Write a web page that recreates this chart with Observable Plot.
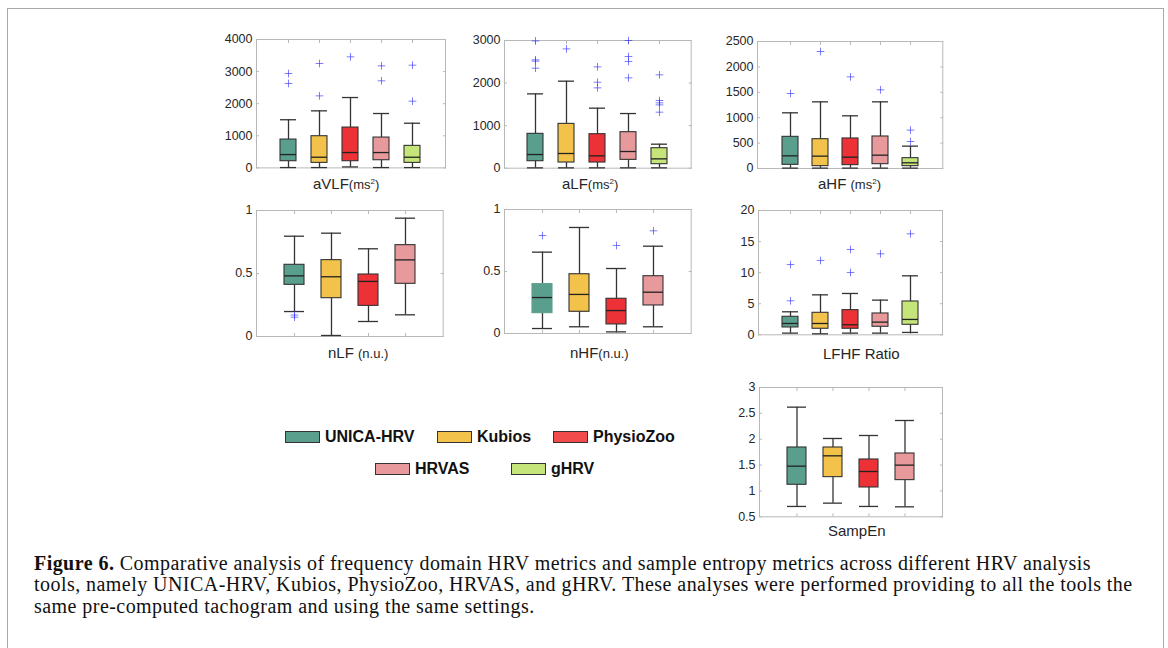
<!DOCTYPE html>
<html><head><meta charset="utf-8">
<script src="https://cdn.jsdelivr.net/npm/d3@7"></script>
<script src="https://cdn.jsdelivr.net/npm/@observablehq/plot@0.6"></script>
<style>
html,body{margin:0;padding:0;background:#fff;}
body{width:1168px;height:648px;overflow:hidden;position:relative;font-family:"Liberation Sans",Arial,sans-serif;}
#frame{position:absolute;left:7px;top:8px;width:1155px;height:700px;border:1.5px solid #a9a9a9;border-bottom:none;}
.panel{position:absolute;}
.xl{position:absolute;font-size:15px;color:#262626;white-space:nowrap;line-height:1;}
.xl .u{font-size:13px;}
.xl sup{font-size:8px;}
.lg{position:absolute;display:flex;align-items:center;font-weight:bold;font-size:16px;color:#111;white-space:nowrap;}
.lg .sw{width:33px;height:10px;border:1.3px solid #333;margin-right:5px;}
#cap{position:absolute;left:34px;top:552.5px;font-family:"Liberation Serif","Times New Roman",serif;font-size:20px;letter-spacing:0.45px;line-height:21.5px;color:#111;white-space:nowrap;}
</style>
</head><body>
<div id="frame"></div>
<div id="root"></div>
<script>
// ---- data ----
const tools = ["UNICA-HRV", "Kubios", "PhysioZoo", "HRVAS", "gHRV"];
const toolColors = ["#5a9f8d", "#f2c24a", "#ec3237", "#e8999b", "#c5e57a"];
const legendColors = ["#5a9f8d", "#f2c24a", "#f24b4b", "#e8999b", "#c5e57a"];

// each row: [lower whisker, Q1, median, Q3, upper whisker] per tool
const aVLF = [[10,208,415,883,1500],[10,156,332,987,1777],[30,208,478,1257,2192],[10,239,478,945,1694],[10,156,332,686,1392]];
const aVLF_out = [[2940,2630],[3252,2244],[3460],[3180,2712],[3200,2078]];
const aVLF_ticks = [0,1000,2000,3000,4000];

const aLF = [[8,164,321,807,1746],[8,133,345,1041,2044],[8,133,290,799,1410],[8,196,392,846,1284],[8,94,219,470,564]];
const aLF_out = [[2990,2545,2514,2349],[2803],[2380,2020,1887],[3000,2623,2506,2122],[2193,1590,1535,1488,1316]];
const aLF_ticks = [0,1000,2000,3000];

const aHF = [[7,72,249,623,1096],[7,46,243,577,1312],[7,66,223,591,1037],[7,85,262,630,1312],[7,46,112,203,440]];
const aHF_out = [[1476],[2303],[1804],[1549],[755,531]];
const aHF_ticks = [0,500,1000,1500,2000,2500];

const nLF = [[0.198,0.41,0.481,0.569,0.796],[0.008,0.304,0.474,0.606,0.82],[0.119,0.243,0.437,0.492,0.696],[0.172,0.418,0.608,0.725,0.939]];
const nLF_out = [[0.17,0.153],[],[],[]];
const nLF_ticks = [0,0.5,1];

const nHF = [[0.04,0.164,0.29,0.398,0.656],[0.054,0.175,0.315,0.478,0.855],[0.013,0.073,0.185,0.28,0.524],[0.054,0.226,0.333,0.462,0.704]];
const nHF_out = [[0.79],[],[0.71],[0.828]];
const nHF_ticks = [0,0.5,1];

const LFHF = [[0.27,1.18,1.82,2.9,3.7],[0.16,0.97,1.82,3.54,6.43],[0.27,0.97,1.61,3.97,6.65],[0.27,1.29,2.04,3.43,5.58],[0.38,1.61,2.47,5.36,9.49]];
const LFHF_out = [[11.3,5.47],[11.96],[13.73,10.03],[13.03],[16.25]];
const LFHF_ticks = [0,5,10,15,20];

const SampEn = [[0.70,1.119,1.479,1.84,2.62],[0.764,1.267,1.679,1.84,2.014],[0.70,1.067,1.376,1.608,2.072],[0.693,1.209,1.499,1.724,2.362]];
const SampEn_out = [[],[],[],[]];
const SampEn_ticks = [0.5,1,1.5,2,2.5,3];

// ---- layout ----
const panels = [
  {stats:aVLF, out:aVLF_out, ticks:aVLF_ticks, box:[256,39.3,445,167.7], label:'aVLF<span class="u">(ms<sup>2</sup>)</span>', lx:313, ly:176},
  {stats:aLF, out:aLF_out, ticks:aLF_ticks, box:[504.3,40,691,167.7], label:'aLF<span class="u">(ms<sup>2</sup>)</span>', lx:562, ly:176},
  {stats:aHF, out:aHF_out, ticks:aHF_ticks, box:[756.7,40.7,942,167.7], label:'aHF <span class="u">(ms<sup>2</sup>)</span>', lx:818, ly:176},
  {stats:nLF, out:nLF_out, ticks:nLF_ticks, box:[256,210,442.7,336], label:'nLF <span class="u">(n.u.)</span>', lx:328, ly:345},
  {stats:nHF, out:nHF_out, ticks:nHF_ticks, box:[504.3,209.3,691,333.3], label:'nHF<span class="u">(n.u.)</span>', lx:570, ly:345, noStroke:[0]},
  {stats:LFHF, out:LFHF_out, ticks:LFHF_ticks, box:[758.3,210,942.3,334.3], label:'LFHF Ratio', lx:823, ly:346},
  {stats:SampEn, out:SampEn_out, ticks:SampEn_ticks, box:[759.3,386.7,942.3,516], label:'SampEn', lx:828, ly:523}
];

const root = document.getElementById("root");
const axisColor = "#b8b8b8";
const ML = 48, MR = 8, MT = 10, MB = 8;

for (const p of panels) {
  const [x0, y0, x1, y1] = p.box;
  const n = p.stats.length;
  const names = tools.slice(0, n);
  const rows = p.stats.map((s, i) => ({tool: tools[i], lo: s[0], q1: s[1], med: s[2], q3: s[3], hi: s[4], color: toolColors[i],
    edge: (p.noStroke && p.noStroke.includes(i)) ? toolColors[i] : "#333"}));
  const outs = p.out.flatMap((arr, i) => arr.map(v => ({tool: tools[i], v})));
  const dom = [p.ticks[0], p.ticks[p.ticks.length - 1]];
  const chart = Plot.plot({
    width: ML + (x1 - x0) + MR,
    height: MT + (y1 - y0) + MB,
    marginLeft: ML, marginRight: MR, marginTop: MT, marginBottom: MB,
    style: {fontFamily: '"Liberation Sans", Arial, sans-serif', fontSize: "12.5px", color: "#262626", background: "transparent", overflow: "visible"},
    x: {type: "band", domain: names, paddingInner: 0.47, paddingOuter: 0.735, axis: null},
    y: {domain: dom, axis: null},
    color: {type: "identity"},
    marks: [
      Plot.frame({stroke: axisColor, strokeWidth: 1}),
      Plot.axisY({ticks: p.ticks, anchor: "left", tickSize: -3, tickFormat: () => "", label: null, stroke: axisColor}),
      Plot.axisY({ticks: p.ticks, anchor: "right", tickSize: -3, tickFormat: () => "", label: null, stroke: axisColor}),
      Plot.axisY({ticks: p.ticks, anchor: "left", tickSize: 0, tickPadding: 4, tickFormat: d => String(d), label: null, fill: "#262626"}),
      Plot.axisX({anchor: "bottom", tickSize: -3, tickFormat: () => "", label: null, stroke: axisColor}),
      Plot.axisX({anchor: "top", tickSize: -3, tickFormat: () => "", label: null, stroke: axisColor}),
      Plot.ruleX(rows, {x: "tool", y1: "lo", y2: "q1", stroke: "#333", strokeWidth: 1.3}),
      Plot.ruleX(rows, {x: "tool", y1: "q3", y2: "hi", stroke: "#333", strokeWidth: 1.3}),
      Plot.tickY(rows, {x: "tool", y: "lo", stroke: "#333", strokeWidth: 1.3}),
      Plot.tickY(rows, {x: "tool", y: "hi", stroke: "#333", strokeWidth: 1.3}),
      Plot.barY(rows, {x: "tool", y1: "q1", y2: "q3", fill: "color", stroke: "edge", strokeWidth: 1.1}),
      Plot.tickY(rows, {x: "tool", y: "med", stroke: "#222", strokeWidth: 1.3}),
      Plot.dot(outs, {x: "tool", y: "v", symbol: "plus", r: 2.6, stroke: "#3535ff", strokeOpacity: 0.65, strokeWidth: 1})
    ]
  });
  chart.classList.add("panel");
  chart.style.left = (x0 - ML) + "px";
  chart.style.top = (y0 - MT) + "px";
  root.appendChild(chart);
  const lab = document.createElement("div");
  lab.className = "xl";
  lab.innerHTML = p.label;
  lab.style.left = p.lx + "px";
  lab.style.top = p.ly + "px";
  root.appendChild(lab);
}

// legend
const legendPos = [[285,431],[437,431],[553,431],[375,463],[511,463]];
tools.forEach((t, i) => {
  const d = document.createElement("div");
  d.className = "lg";
  d.style.left = legendPos[i][0] + "px";
  d.style.top = (legendPos[i][1] - 4) + "px";
  d.style.height = "20px";
  d.innerHTML = `<div class="sw" style="background:${legendColors[i]}"></div><span>${t}</span>`;
  root.appendChild(d);
});

// caption
const cap = document.createElement("div");
cap.id = "cap";
cap.innerHTML = '<b>Figure 6.</b> Comparative analysis of frequency domain HRV metrics and sample entropy metrics across different HRV analysis<br>tools, namely UNICA-HRV, Kubios, PhysioZoo, HRVAS, and gHRV. These analyses were performed providing to all the tools the<br>same pre-computed tachogram and using the same settings.';
root.appendChild(cap);
</script>
</body></html>
